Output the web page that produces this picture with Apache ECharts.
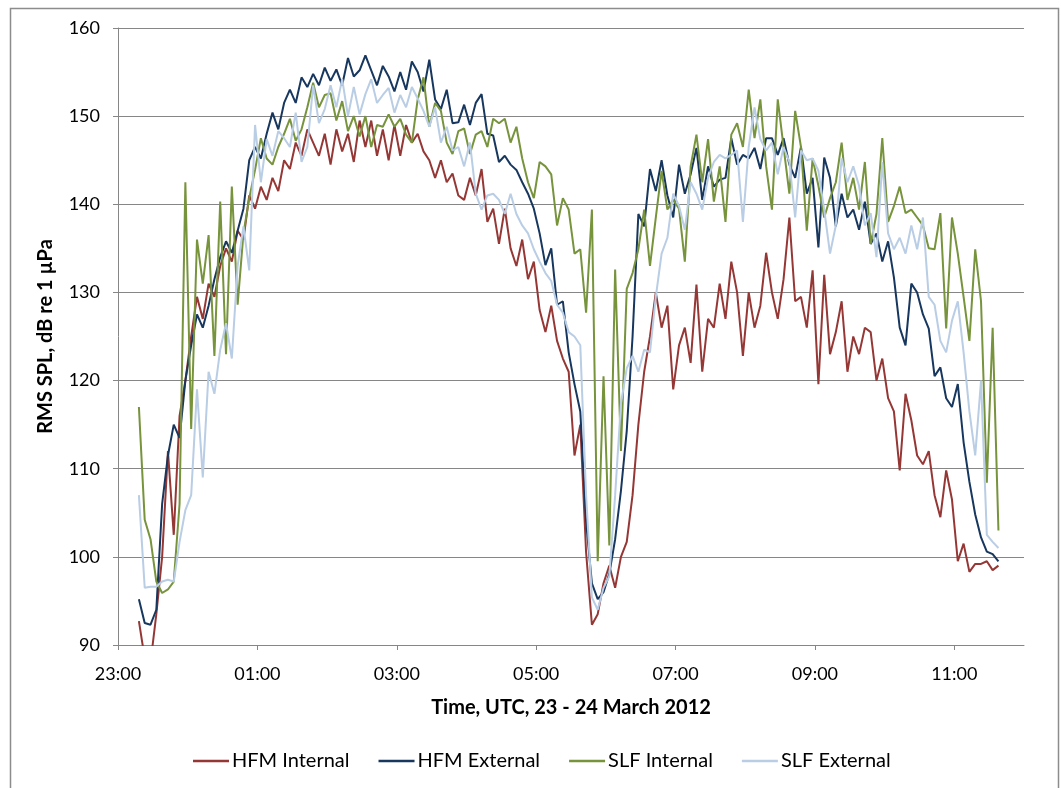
<!DOCTYPE html>
<html>
<head>
<meta charset="utf-8">
<title>RMS SPL, 23 - 24 March 2012</title>
<script src="https://cdn.jsdelivr.net/npm/echarts@6/dist/echarts.min.js"></script>
<style>
  html, body { margin: 0; padding: 0; background: #ffffff; }
  #chart { width: 1061px; height: 788px; }
</style>
</head>
<body>
<div id="chart"></div>
<script>
// Sampling: first sample at 23:18 UTC, one sample every 5 minutes (minutes counted from 23:00)
const startMinute = 18;
const stepMinutes = 5;

// X tick positions (minutes after 23:00) and Y ticks
const xTickMinutes = [0, 120, 240, 360, 480, 600, 720];
const yTicks = [90, 100, 110, 120, 130, 140, 150, 160];

const seriesNames = ['HFM Internal', 'HFM External', 'SLF Internal', 'SLF External'];

// RMS SPL, dB re 1 µPa
const hfmInternal = [
  92.7, 88.5, 88, 93.5, 100, 112, 102.5, 116, 120, 125,
  129.5, 127, 131, 129.5, 133, 135, 133.5, 137, 136, 141,
  139.5, 142, 140.5, 143, 141.5, 145, 144, 147, 145.5, 148.5,
  147, 145.5, 148, 144.5, 148.5, 146, 148, 144.8, 149.5, 146.5,
  149.5, 145.5, 148.5, 145, 149, 145.5, 149, 147, 148, 146,
  145, 143, 145, 142.5, 143.5, 141, 140.5, 143, 141, 144,
  138, 139.5, 135.5, 139.5, 135, 133, 136, 131.5, 133.5, 128,
  125.5, 128.5, 124.5, 122.5, 121, 111.5, 115, 100.5, 92.3, 93.5,
  97, 99, 96.5, 100, 101.7, 107, 115, 121, 125, 130,
  126, 128.5, 119, 124, 126, 122, 130.9, 121, 127, 126,
  131, 127, 133.5, 130, 122.8, 130, 126, 128.5, 134.5, 130,
  127, 131.5, 138.5, 129, 129.5, 126, 132.5, 119.6, 132, 123,
  125.5, 129, 121, 125, 123, 126, 125.5, 120, 122.5, 118,
  116.5, 109.8, 118.5, 115.5, 111.5, 110.5, 112, 107, 104.5, 109.8,
  106.5, 99.5, 101.5, 98.3, 99.2, 99.2, 99.5, 98.5, 99
];

const hfmExternal = [
  95.2, 92.5, 92.3, 94, 106, 111.5, 115, 113.5, 120, 124,
  127.5, 126, 128.5, 131.5, 134, 135.8, 134.5, 137, 139.5, 145,
  146.5, 145.2, 148, 150.4, 148.5, 151.5, 153, 151.5, 154.4, 153.3,
  154.8, 153.5, 155.5, 154, 155.3, 153.5, 156.6, 154.5, 155.2, 156.9,
  155.2, 153.5, 155.7, 154.5, 152.8, 155, 153, 156.2, 155, 152.8,
  156.4, 151.9, 150.8, 153, 149.2, 149.3, 151.3, 149, 151.5, 152.5,
  148, 147.8, 144.8, 145.5, 144.5, 143.9, 142.5, 141.2, 139.5, 136.7,
  133.1, 135, 128.6, 129, 123.2, 119.6, 116.5, 104, 97, 95.2,
  96, 98.1, 102, 107.5, 114.3, 125, 138.9, 137.5, 144, 141.5,
  145, 141, 138.5, 144.5, 141.2, 143.4, 146.4, 140.5, 144.3, 142,
  142.8, 143, 147.5, 144.5, 145.6, 145.2, 146.4, 144, 147.5, 147.5,
  145.6, 147.5, 144.5, 143, 146.5, 141.2, 143, 135.1, 145.3, 143,
  137.5, 141.2, 138.5, 139.4, 137.1, 140.3, 135.5, 136.7, 133.5, 135.8,
  131.7, 126, 124, 131, 130, 127.5, 125.9, 120.5, 121.5, 118,
  117, 119.6, 113, 108.5, 104.8, 102.2, 100.6, 100.3, 99.5
];

const slfInternal = [
  117, 104.2, 102, 97.2, 95.9, 96.3, 97.2, 106, 142.5, 114.5,
  136, 131, 136.5, 122.8, 140.3, 123, 142, 128.6, 136.7, 140.7,
  143.9, 147.5, 145.2, 144.5, 146.5, 148, 149.7, 147.2, 148.5, 151,
  153.8, 151, 152.4, 152.6, 149.5, 151.7, 148.3, 150, 147.7, 150,
  146.5, 149, 148.8, 150.2, 148.8, 149.7, 147.9, 147, 151.9, 154.4,
  148.8, 151.5, 150.6, 147, 145.7, 148.3, 148.6, 145.7, 147.9, 148.3,
  146.5, 149.7, 149.2, 149.7, 147, 148.8, 145.2, 142.5, 140.7, 144.8,
  144.3, 143.4, 137.6, 140.7, 139.4, 134.4, 134.9, 127.7, 139.4, 99.5,
  120.5, 101.3, 132.6, 112, 130.4, 132.2, 134.9, 139.4, 133, 138.5,
  143.8, 139.4, 140.5, 139.5, 133.5, 144.3, 147.9, 142.5, 147.4, 140.3,
  144.3, 138, 147.9, 149.2, 146.5, 153, 147.5, 151.9, 144.3, 139.4,
  151.9, 146.5, 141.2, 150.6, 146.5, 137, 145.2, 142.1, 138.5, 140.7,
  142.5, 147, 140.5, 143, 139.4, 144.8, 135.5, 138.9, 147.5, 138,
  139.8, 142, 139, 139.4, 138.5, 137.6, 135, 134.9, 139, 125.9,
  138.5, 134.4, 129.5, 124.5, 134.9, 129, 108.4, 126, 103
];

const slfExternal = [
  107, 96.5, 96.6, 96.6, 97.2, 97.4, 97.2, 101.7, 105.3, 107,
  119, 109, 121, 118.5, 123.5, 126.5, 122.5, 133, 137.5, 132.5,
  149, 142.5, 147.4, 145.5, 148.3, 147.5, 146.5, 150.4, 144.8, 146.5,
  153.5, 149.2, 150.8, 153.5, 151, 154.2, 150, 153.3, 150.2, 152.5,
  154.2, 151.5, 152.4, 153.2, 150.4, 152.4, 151, 153.3, 152, 150.6,
  148.8, 151, 147, 148.8, 146.1, 146.5, 144.3, 147, 141.2, 139.4,
  141, 141.2, 140.5, 138.9, 141.2, 138.9, 137.6, 136.7, 134.9, 133.5,
  132.2, 131.3, 128.6, 127.7, 125.5, 125, 124, 107, 95.4, 94,
  96.5, 97.8, 107, 117.4, 121.4, 122.8, 121, 123.5, 123.2, 129.5,
  134.4, 136.2, 141.2, 139.8, 137.1, 142.5, 141.2, 139.4, 143, 144.8,
  145.6, 145.2, 145.6, 146.1, 138, 146.5, 151, 147.4, 146.1, 147,
  143.4, 146.5, 144.8, 138.5, 146.1, 145, 145.2, 143.8, 139.4, 134.4,
  137.6, 145.2, 142.5, 144.3, 142.1, 137.6, 139, 134, 144.8, 136.7,
  134.9, 136.2, 134.4, 137.6, 134.9, 138.5, 129.5, 128.6, 124.5, 123.2,
  126.8, 129, 123.2, 116.5, 111.5, 120, 102.5, 101.7, 101
];

const seriesValues = [hfmInternal, hfmExternal, slfInternal, slfExternal];
const seriesColors = ['#953735', '#17375E', '#77933C', '#B9CDE5'];

const FONT = 'Lato, "Noto Sans", sans-serif';

function toPairs(values) {
  return values.map((v, i) => [startMinute + i * stepMinutes, v]);
}

function clockLabel(minutes) {
  if (minutes % 120 !== 0) return '';
  const t = (23 * 60 + minutes) % 1440;
  const h = Math.floor(t / 60);
  return String(h).padStart(2, '0') + ':00';
}

const chart = echarts.init(document.getElementById('chart'), null, { renderer: 'canvas' });

chart.setOption({
  animation: false,
  backgroundColor: '#ffffff',
  textStyle: { fontFamily: FONT },
  graphic: [{
    type: 'rect',
    left: 8, top: 6,
    shape: { width: 1048, height: 800 },
    style: { fill: 'none', stroke: '#8c8c8c', lineWidth: 1.5 },
    silent: true
  }],
  grid: { left: 118, top: 28, right: 37, bottom: 143, containLabel: false },
  legend: {
    left: 193,
    top: 751,
    padding: 0,
    icon: 'rect',
    itemWidth: 36,
    itemHeight: 2.5,
    itemGap: 29,
    textStyle: { fontFamily: FONT, fontSize: 20, lineHeight: 20, color: '#000', padding: [0, 0, 0, -2] },
    data: seriesNames
  },
  xAxis: {
    type: 'value',
    min: 0,
    max: 780,
    interval: 120,
    name: 'Time, UTC, 23 - 24 March 2012',
    nameLocation: 'middle',
    nameGap: 53,
    nameTextStyle: { fontFamily: FONT, fontSize: 20, fontWeight: 'bold', color: '#000' },
    axisLine: { show: true, lineStyle: { color: '#868686', width: 1 } },
    axisTick: { show: true, length: 5, inside: false, customValues: xTickMinutes, lineStyle: { color: '#868686' } },
    axisLabel: {
      customValues: xTickMinutes,
      formatter: clockLabel,
      margin: 20,
      fontFamily: FONT, fontSize: 18, color: '#000'
    },
    splitLine: { show: false }
  },
  yAxis: {
    type: 'value',
    min: yTicks[0],
    max: yTicks[yTicks.length - 1],
    interval: 10,
    name: 'RMS SPL, dB re 1 \u00b5Pa',
    nameLocation: 'middle',
    nameGap: 62,
    nameRotate: 90,
    nameTextStyle: { fontFamily: FONT, fontSize: 20, fontWeight: 'bold', color: '#000' },
    axisLine: { show: true, lineStyle: { color: '#868686', width: 1 } },
    axisTick: { show: true, length: 5, inside: false, lineStyle: { color: '#868686' } },
    axisLabel: { margin: 18, fontFamily: FONT, fontSize: 18, color: '#000' },
    splitLine: { show: true, lineStyle: { color: '#868686', width: 1 } }
  },
  series: seriesNames.map((name, k) => ({
    name: name,
    type: 'line',
    data: toPairs(seriesValues[k]),
    symbol: 'none',
    showSymbol: false,
    clip: true,
    smooth: false,
    color: seriesColors[k],
    lineStyle: { color: seriesColors[k], width: 2 },
    emphasis: { disabled: true }
  }))
});
</script>
</body>
</html>
